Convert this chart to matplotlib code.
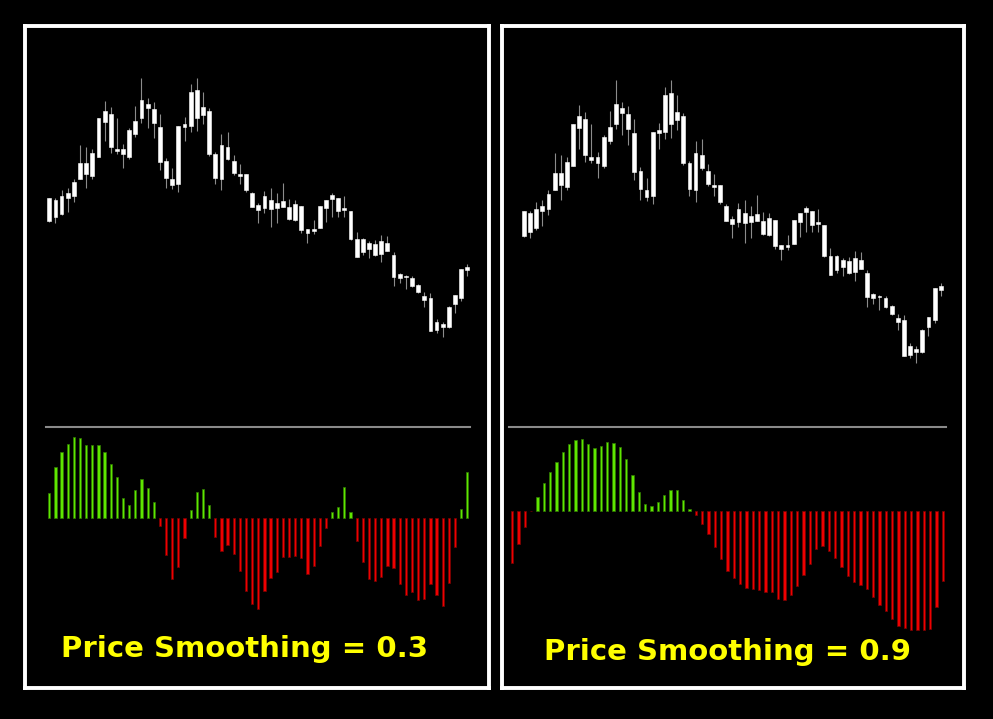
import numpy as np
import matplotlib
matplotlib.use("Agg")
import matplotlib.pyplot as plt

# candle data (all candles drawn white, so only body top/bottom and wicks matter)
body_top = [202, 200, 204, 207, 218, 237, 237, 247, 282, 289, 286, 251, 251, 270, 279, 300, 296, 291,
            273, 239, 221, 274, 276, 308, 310, 293, 289, 246, 255, 253, 239, 226, 226, 207, 195, 204,
            200, 197, 199, 193, 196, 194, 171, 171, 194, 200, 205, 202, 192, 189, 161, 161, 157, 156,
            159, 157, 145, 126, 124, 122, 115, 104, 102, 78, 76, 93, 105, 131, 133]
body_bot = [179, 183, 186, 202, 204, 221, 226, 224, 243, 278, 253, 249, 246, 243, 266, 282, 292, 277,
            238, 222, 215, 216, 273, 274, 282, 285, 246, 222, 221, 241, 227, 224, 210, 193, 190, 192,
            191, 192, 193, 181, 180, 170, 167, 169, 172, 192, 201, 189, 190, 161, 143, 148, 151, 145,
            146, 149, 123, 122, 123, 114, 108, 100, 69, 70, 73, 73, 96, 102, 130]
high = [202, 202, 210, 212, 221, 255, 253, 251, 282, 299, 293, 282, 256, 272, 294, 322, 302, 298,
        286, 242, 232, 274, 283, 316, 322, 308, 292, 248, 266, 268, 245, 236, 226, 208, 197, 209,
        212, 207, 217, 201, 200, 194, 171, 180, 194, 200, 207, 202, 204, 189, 168, 162, 159, 160,
        165, 164, 148, 127, 125, 124, 116, 108, 107, 81, 78, 94, 105, 131, 136]
low = [178, 177, 185, 188, 198, 221, 212, 221, 243, 259, 247, 246, 232, 241, 263, 277, 272, 262,
       230, 212, 211, 208, 259, 268, 269, 276, 244, 216, 210, 240, 225, 216, 208, 193, 177, 187,
       173, 177, 193, 180, 179, 167, 157, 166, 172, 178, 183, 183, 183, 160, 143, 145, 142, 144,
       138, 149, 114, 117, 111, 113, 107, 93, 69, 67, 63, 72, 87, 99, 124]

# oscillator histograms
hist_03 = [25.3, 51.3, 66, 74.3, 81, 79.7, 73, 73, 72.7, 66.3, 54, 40.7, 19.7, 13.3, 27.7, 39, 30, 16,
           -8, -37.3, -61.3, -49, -20,
           8.3, 26, 28.7, 13.3,
           -18.7, -33, -27.3, -36.3, -52.7, -72.5, -86.3, -91.2, -72.7, -59.7, -54, -39.3, -38.7,
           -37.7, -39.7, -56.3, -47.7, -27.7, -9.7,
           6, 10.7, 31, 6.3,
           -22.7, -43.7, -60.7, -63.3, -58.7, -48, -50.3, -65.7, -77.3, -74.3, -81.7, -81.3, -65.7,
           -77.3, -87.7, -65, -28.7,
           8.7, 45.7]
hist_09 = [-52, -33.3, -16.3, -0.7,
           14, 27.3, 38.3, 49, 58.7, 66.3, 71, 72, 67, 63, 65, 68.3, 68, 63.7, 52, 36, 18.3, 6.7,
           4.3, 8.7, 15.7, 21, 20.3, 11, 1.7,
           -4.7, -13, -23.5, -36.2, -48.3, -60.3, -67.3, -73, -77.7, -78, -79.3, -81.3, -81.7, -88,
           -89.7, -84.7, -75.7, -64, -53.3, -38.7, -35.3, -40.3, -47.3, -56.3, -65, -71, -74, -78.3,
           -86, -94, -100.7, -108.3, -115, -117.3, -119.3, -119.3, -119.3, -118.3, -96.7, -70.7]

labels = ["Price Smoothing = 0.3", "Price Smoothing = 0.9"]

W, H = 993, 719
fig = plt.figure(figsize=(W / 100, H / 100), dpi=100, facecolor="black")


def px_axes(x0, y0, x1, y1):
    # pixel box (from top-left) -> figure axes
    ax = fig.add_axes([x0 / W, 1 - y1 / H, (x1 - x0) / W, (y1 - y0) / H])
    ax.set_facecolor("black")
    ax.set_xticks([])
    ax.set_yticks([])
    return ax


def draw_candles(ax):
    x = np.arange(1, len(high) + 1)
    ax.vlines(x, low, high, color="#8c8c8c", linewidth=0.8, zorder=1)
    ax.bar(x, np.array(body_top) - np.array(body_bot), bottom=body_bot, width=0.62,
           color="white", edgecolor="white", linewidth=0.4, zorder=2)
    ax.set_xlim(0.5, len(high) + 0.5)
    for s in ax.spines.values():
        s.set_visible(False)


def draw_hist(ax, vals, ylim):
    x = np.arange(1, len(vals) + 1)
    v = np.array(vals)
    cols = np.where(v >= 0, "#5fe600", "#ee0000")
    edges = np.where(v >= 0, "#2f7a00", "#7a0000")
    ax.bar(x, v, width=0.36, color=cols, edgecolor=edges, linewidth=0.5)
    ax.set_xlim(0.5, len(vals) + 0.5)
    ax.set_ylim(*ylim)
    for k, s in ax.spines.items():
        s.set_visible(k == "top")
    ax.spines["top"].set_color("#8a8a8a")
    ax.spines["top"].set_linewidth(1.5)


# panel frames
for x0, x1 in [(24.5, 488.5), (502, 963.5)]:
    fr = px_axes(x0, 25.5, x1, 687.5)
    for s in fr.spines.values():
        s.set_color("white")
        s.set_linewidth(2.8)
    fr.set_zorder(0)

# left panel
axc1 = px_axes(46.2, 60, 470.4, 360)
draw_candles(axc1)
axc1.set_ylim(40, 340)
axh1 = px_axes(46.2, 427, 470.4, 618)
draw_hist(axh1, hist_03, (-100, 91))

# right panel
axc2 = px_axes(520.9, 60.35, 943.8, 387.8)
draw_candles(axc2)
axc2.set_ylim(40, 340)
axh2 = px_axes(509.1, 427, 945.9, 635.7)
draw_hist(axh2, hist_09, (-125, 83.7))

fig.text(245 / W, 1 - 649 / H, labels[0], color="#ffff00", fontsize=21, fontweight="bold",
         family="DejaVu Sans", ha="center", va="center")
fig.text(728 / W, 1 - 652 / H, labels[1], color="#ffff00", fontsize=21, fontweight="bold",
         family="DejaVu Sans", ha="center", va="center")

fig.savefig("out.png", dpi=100, facecolor="black")
